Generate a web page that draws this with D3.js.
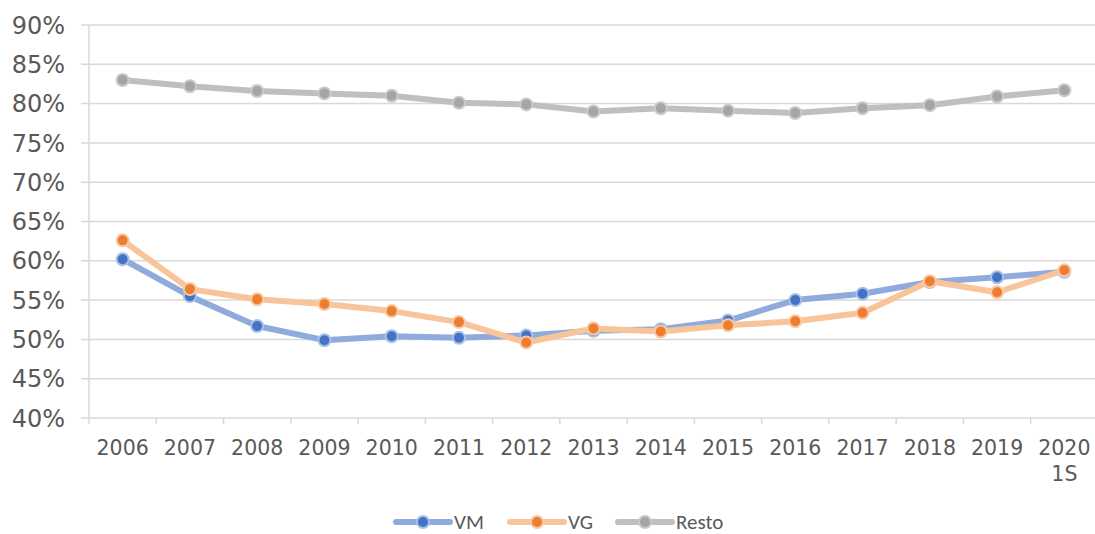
<!DOCTYPE html>
<html>
<head>
<meta charset="utf-8">
<script src="https://cdn.jsdelivr.net/npm/d3@7"></script>
<style>
    body { margin: 0; background: #fff; }
    text { font-family: "DejaVu Sans", Verdana, sans-serif; fill: #595959; }
</style>
</head>
<body>
<div id="chart"></div>
<script>
// data
const years = ["2006", "2007", "2008", "2009", "2010", "2011", "2012", "2013", "2014", "2015", "2016", "2017", "2018", "2019", "2020\n1S"];
const vm = [60.2, 55.5, 51.7, 49.9, 50.4, 50.2, 50.5, 51.1, 51.3, 52.4, 55.0, 55.8, 57.3, 57.9, 58.6];
const vg = [62.6, 56.4, 55.1, 54.5, 53.6, 52.2, 49.6, 51.4, 51.0, 51.8, 52.3, 53.4, 57.4, 56.0, 58.8];
const resto = [83.0, 82.2, 81.6, 81.3, 81.0, 80.1, 79.9, 79.0, 79.4, 79.1, 78.8, 79.4, 79.8, 80.9, 81.7];
const yTicks = [40, 45, 50, 55, 60, 65, 70, 75, 80, 85, 90];

const series = [
    {name: "VM", values: vm, line: "#8FAADC", dot: "#4472C4", ring: "#A9C0E8"},
    {name: "VG", values: vg, line: "#F8C49A", dot: "#ED7D31", ring: "#F9C9A2"},
    {name: "Resto", values: resto, line: "#BFBFBF", dot: "#A5A5A5", ring: "#C9C9C9"}
];

const W = 1095, H = 534;
const margin = {top: 25, right: -3, bottom: 116, left: 89};
const width = W - margin.left - margin.right;
const height = H - margin.top - margin.bottom;

const svg = d3.select("#chart").append("svg")
    .attr("width", W)
    .attr("height", H);

const g = svg.append("g")
    .attr("transform", `translate(${margin.left}, ${margin.top})`);

const x = d3.scaleBand()
    .domain(years)
    .range([0, width]);

const y = d3.scaleLinear()
    .domain([40, 90])
    .range([height, 0]);

// gridlines
g.selectAll(".grid")
    .data(yTicks)
    .enter().append("line")
    .attr("class", "grid")
    .attr("x1", -8)
    .attr("x2", width)
    .attr("y1", d => y(d))
    .attr("y2", d => y(d))
    .attr("stroke", "#D9D9D9")
    .attr("stroke-width", 1.5);

// left axis line
g.append("line")
    .attr("x1", 0).attr("x2", 0)
    .attr("y1", 0).attr("y2", height + 6)
    .attr("stroke", "#D9D9D9")
    .attr("stroke-width", 1.5);

// x ticks at category boundaries
g.selectAll(".xtick")
    .data(years.slice(1))
    .enter().append("line")
    .attr("class", "xtick")
    .attr("x1", d => x(d)).attr("x2", d => x(d))
    .attr("y1", height).attr("y2", height + 6)
    .attr("stroke", "#D9D9D9")
    .attr("stroke-width", 1.5);

// y labels
g.selectAll(".ylab")
    .data(yTicks)
    .enter().append("text")
    .attr("class", "ylab")
    .attr("x", -24)
    .attr("y", d => y(d))
    .attr("dy", "0.36em")
    .attr("text-anchor", "end")
    .style("font-size", "24px")
    .text(d => d + "%");

// x labels
const xl = g.selectAll(".xlab")
    .data(years)
    .enter().append("text")
    .attr("class", "xlab")
    .attr("transform", d => `translate(${x(d) + x.bandwidth() / 2}, ${height + 37})`)
    .attr("text-anchor", "middle")
    .style("font-size", "20.5px");

xl.selectAll("tspan")
    .data(d => d.split("\n"))
    .enter().append("tspan")
    .attr("x", 0)
    .attr("dy", (d, i) => i === 0 ? 0 : 26)
    .text(d => d);

const line = d3.line()
    .x((d, i) => x(years[i]) + x.bandwidth() / 2)
    .y(d => y(d));

series.forEach(s => {
    g.append("path")
        .datum(s.values)
        .attr("fill", "none")
        .attr("stroke", s.line)
        .attr("stroke-width", 6)
        .attr("stroke-linejoin", "round")
        .attr("d", line);

    g.selectAll(".dot-" + s.name)
        .data(s.values)
        .enter().append("circle")
        .attr("cx", (d, i) => x(years[i]) + x.bandwidth() / 2)
        .attr("cy", d => y(d))
        .attr("r", 6)
        .attr("fill", s.dot)
        .attr("stroke", s.ring)
        .attr("stroke-width", 2);
});

// legend
const legendX = [395, 509, 617];
const legend = svg.selectAll(".legend")
    .data(series)
    .enter().append("g")
    .attr("class", "legend")
    .attr("transform", (d, i) => `translate(${legendX[i]}, 522)`);

legend.append("line")
    .attr("x1", 1).attr("x2", 55)
    .attr("stroke", d => d.line)
    .attr("stroke-width", 6)
    .attr("stroke-linecap", "round");

legend.append("circle")
    .attr("cx", 28)
    .attr("r", 6)
    .attr("fill", d => d.dot)
    .attr("stroke", d => d.ring)
    .attr("stroke-width", 2);

legend.append("text")
    .attr("x", 59)
    .attr("y", 7)
    .style("font-family", "Carlito, 'Liberation Sans', sans-serif")
    .style("font-size", "21px")
    .text(d => d.name);
</script>
</body>
</html>
